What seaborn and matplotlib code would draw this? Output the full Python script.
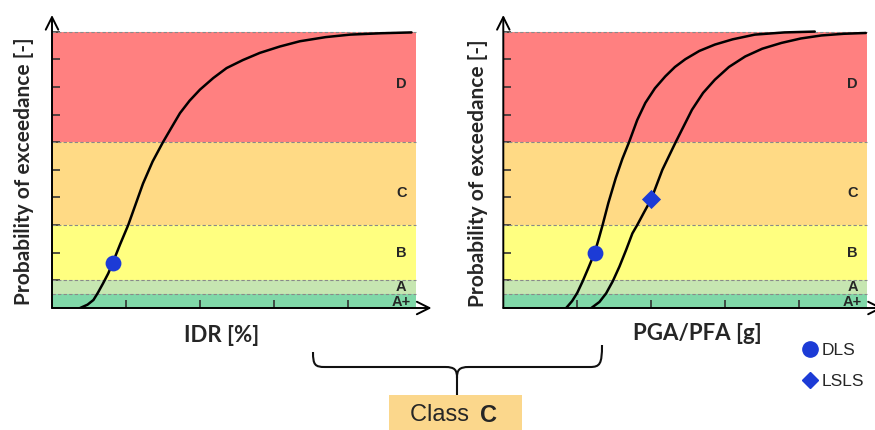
import matplotlib.pyplot as plt
import seaborn as sns
import numpy as np
from matplotlib.lines import Line2D
from matplotlib.path import Path
from matplotlib.patches import PathPatch, Rectangle

# ============================================================================
# DATA
# ============================================================================
BAND_NAMES = ['A+', 'A', 'B', 'C', 'D']
BAND_EDGES = [0.0, 0.05, 0.1, 0.3, 0.6, 1.0]

# fragility curve, drift sensitive elements (IDR)
IDR_X = [0.38, 0.48, 0.56, 0.62, 0.69, 0.76, 0.82, 0.92, 1.03, 1.13, 1.23, 1.36,
         1.50, 1.62, 1.73, 1.86, 2.00, 2.18, 2.36, 2.58, 2.81, 3.08, 3.35, 3.70,
         4.03, 4.45, 4.86]
IDR_P = [0.000, 0.012, 0.029, 0.055, 0.089, 0.125, 0.163, 0.230, 0.300, 0.375,
         0.450, 0.530, 0.600, 0.655, 0.705, 0.750, 0.790, 0.832, 0.868, 0.897,
         0.923, 0.946, 0.965, 0.980, 0.989, 0.994, 0.997]

# fragility curves, acceleration sensitive elements (PGA/PFA)
PGA_DLS_X = [0.85, 0.93, 1.00, 1.07, 1.15, 1.235, 1.29, 1.342, 1.42, 1.52, 1.61,
             1.70, 1.81, 1.92, 2.05, 2.19, 2.32, 2.46, 2.65, 2.86, 3.10, 3.40,
             3.80, 4.21]
PGA_DLS_P = [0.000, 0.025, 0.055, 0.095, 0.145, 0.200, 0.250, 0.300, 0.380,
             0.470, 0.540, 0.600, 0.680, 0.742, 0.795, 0.838, 0.872, 0.900,
             0.930, 0.953, 0.972, 0.989, 0.997, 1.000]
PGA_LSLS_X = [1.19, 1.30, 1.39, 1.48, 1.57, 1.66, 1.745, 1.81, 1.90, 2.00, 2.15,
              2.33, 2.55, 2.70, 2.86, 3.05, 3.27, 3.50, 3.76, 4.02, 4.30, 4.60,
              4.90]
PGA_LSLS_P = [0.000, 0.022, 0.053, 0.097, 0.150, 0.210, 0.270, 0.300, 0.345,
              0.394, 0.500, 0.600, 0.717, 0.778, 0.826, 0.872, 0.910, 0.938,
              0.959, 0.975, 0.986, 0.992, 0.995]

# limit state points
IDR_DLS = (0.82, 0.163)
PGA_DLS = (1.235, 0.200)
PGA_LSLS = (2.00, 0.394)

X_TICKS = [1, 2, 3, 4]
Y_TICKS = [0.1, 0.2, 0.3, 0.4, 0.5, 0.6, 0.7, 0.8, 0.9, 1.0]

# ============================================================================
# STYLE
# ============================================================================
BAND_COLORS = ['#80D8A8', '#C6E6B1', '#FFFF80', '#FFDA85', '#FF8080']
BAND_LABEL_Y = [0.023, 0.077, 0.200, 0.415, 0.810]
BLUE = '#1C3BD6'
X_MAX_BAND = 4.92

sns.set_style('white')
plt.rcParams['font.family'] = ['Lato', 'DejaVu Sans']

fig = plt.figure(figsize=(8.75, 4.3), dpi=100)
W, H = 875, 430


def px_axes(left, bottom_px, width, height):
    return fig.add_axes([left / W, 1 - bottom_px / H, width / W, height / H])


ax1 = px_axes(52, 308, 381, 293)
ax2 = px_axes(503.3, 308, 381, 293)


def style_panel(ax):
    ax.set_xlim(0, 5.15)
    ax.set_ylim(0, 1.06)
    for s in ax.spines.values():
        s.set_visible(False)
    # damage class bands
    for i in range(len(BAND_NAMES)):
        ax.fill_between([0, X_MAX_BAND], BAND_EDGES[i], BAND_EDGES[i + 1],
                        color=BAND_COLORS[i], lw=0, zorder=0)
        ax.text(4.72, BAND_LABEL_Y[i], BAND_NAMES[i], ha='center', va='center',
                fontsize=10.5, fontweight='bold', family='Liberation Sans', zorder=3)
    for e in BAND_EDGES[1:]:
        ax.plot([0, X_MAX_BAND], [e, e], ls=(0, (3, 2)), color='#8a8a8a', lw=0.8, zorder=1)
    ax.set_xticks(X_TICKS)
    ax.set_yticks(Y_TICKS)
    ax.tick_params(direction='in', length=6, width=1.2, colors='#333333',
                   labelleft=False, labelbottom=False, left=True, bottom=True)
    arrow = dict(arrowstyle='->, head_length=0.9, head_width=0.45', lw=1.4,
                 color='black', shrinkA=0, shrinkB=0)
    ax.annotate('', xy=(5.13, 0), xytext=(0, 0), arrowprops=arrow, annotation_clip=False)
    ax.annotate('', xy=(0, 1.06), xytext=(0, 0), arrowprops=arrow, annotation_clip=False)
    ax.set_xlabel('')
    ax.set_ylabel('')


style_panel(ax1)
style_panel(ax2)

# curves
sns.lineplot(x=IDR_X, y=IDR_P, ax=ax1, color='black', lw=1.8, sort=False, estimator=None, zorder=4)
sns.lineplot(x=PGA_DLS_X, y=PGA_DLS_P, ax=ax2, color='black', lw=1.8, sort=False, estimator=None, zorder=4)
sns.lineplot(x=PGA_LSLS_X, y=PGA_LSLS_P, ax=ax2, color='black', lw=1.8, sort=False, estimator=None, zorder=4)

# limit state points
sns.scatterplot(x=[IDR_DLS[0]], y=[IDR_DLS[1]], ax=ax1, marker='o', s=130, color=BLUE, lw=0, zorder=5)
sns.scatterplot(x=[PGA_DLS[0]], y=[PGA_DLS[1]], ax=ax2, marker='o', s=130, color=BLUE, lw=0, zorder=5)
sns.scatterplot(x=[PGA_LSLS[0]], y=[PGA_LSLS[1]], ax=ax2, marker='D', s=95, color=BLUE, lw=0, zorder=5)
for ax in (ax1, ax2):
    ax.set_xlim(0, 5.15)
    ax.set_ylim(0, 1.06)

# axis titles
ylab = 'Probability of exceedance [-]'
fig.text(24 / W, 1 - 171 / H, ylab, rotation=90, ha='center', va='center',
         fontsize=15, fontweight='bold')
fig.text(478 / W, 1 - 173 / H, ylab, rotation=90, ha='center', va='center',
         fontsize=15, fontweight='bold')
fig.text(222 / W, 1 - 335 / H, 'IDR [%]', ha='center', va='center',
         fontsize=16, fontweight='bold')
fig.text(697 / W, 1 - 333 / H, 'PGA/PFA [g]', ha='center', va='center',
         fontsize=16, fontweight='bold')

# brace + class box on overlay
ov = fig.add_axes([0, 0, 1, 1], zorder=10)
ov.set_xlim(0, W)
ov.set_ylim(H, 0)
ov.axis('off')
verts = [(313, 352), (313, 365), (315, 367), (325, 367), (445, 367),
         (455, 367), (457, 370), (457, 378), (457, 395)]
codes = [Path.MOVETO, Path.CURVE4, Path.CURVE4, Path.CURVE4, Path.LINETO,
         Path.CURVE4, Path.CURVE4, Path.CURVE4, Path.LINETO]
ov.add_patch(PathPatch(Path(verts, codes), fill=False, lw=1.5, color='#111111'))
verts = [(602, 345), (602, 364), (600, 367), (590, 367), (469, 367),
         (459, 367), (457, 370), (457, 378)]
codes = [Path.MOVETO, Path.CURVE4, Path.CURVE4, Path.CURVE4, Path.LINETO,
         Path.CURVE4, Path.CURVE4, Path.CURVE4]
ov.add_patch(PathPatch(Path(verts, codes), fill=False, lw=1.5, color='#111111'))
ov.add_patch(Rectangle((389, 395), 133, 40, color='#FBD78C', lw=0))
ov.text(476, 415, 'Class ', ha='right', va='center', fontsize=17, family='Liberation Sans')
ov.text(480, 415, 'C', ha='left', va='center', fontsize=17, fontweight='bold',
        family='Liberation Sans')

# legend
handles = [Line2D([0], [0], marker='o', ls='none', color=BLUE, markersize=11),
           Line2D([0], [0], marker='D', ls='none', color=BLUE, markersize=8.5)]
fig.legend(handles, ['DLS', 'LSLS'], loc='center left',
           bbox_to_anchor=(787 / W, 1 - 366 / H), frameon=False,
           prop={'family': 'Liberation Sans', 'size': 12.5},
           handlelength=0.9, handletextpad=0.2, labelspacing=0.9)

fig.savefig('out.png', dpi=100)
